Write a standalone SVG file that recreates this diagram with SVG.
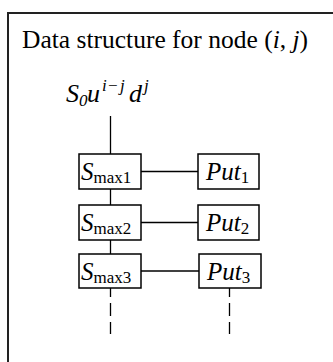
<svg xmlns="http://www.w3.org/2000/svg" width="333" height="362" viewBox="0 0 333 362">
<style>
.frame{fill:none;stroke:#222;stroke-width:2}
.box{fill:#fff;stroke:#000;stroke-width:1.5}
.ln{fill:none;stroke:#000;stroke-width:1.3}
.dash{fill:none;stroke:#000;stroke-width:1.3;stroke-dasharray:13 6;stroke-dashoffset:4}
.t{font-family:"Liberation Serif","Times New Roman",serif;fill:#000}
.it{font-style:italic}
.m{font-family:"Liberation Serif","Times New Roman",serif;font-style:italic;fill:#000;font-size:26px}
.ms{font-family:"Liberation Serif","Times New Roman",serif;font-style:italic;fill:#000;font-size:17px}
</style>
<rect width="333" height="362" fill="#fff"/>
<path class="frame" d="M8,362 V13 H333"/>
<text class="t" x="22" y="48" font-size="25.5">Data structure for node (<tspan class="it">i</tspan>, <tspan class="it">j</tspan>)</text>
<g id="root">
<text class="m" x="66" y="102">S</text>
<text class="ms" x="79" y="106" font-style="normal">0</text>
<text class="m" x="87" y="102">u</text>
<text class="ms" x="102" y="91">i</text>
<text class="ms" x="107" y="91" font-style="normal">−</text>
<text class="ms" x="120" y="91">j</text>
<text class="m" x="129" y="102">d</text>
<text class="ms" x="144" y="91">j</text>
</g>
<g id="connectors">
<line class="ln" x1="110.5" y1="116" x2="110.5" y2="154"/>
<line class="ln" x1="110.5" y1="189" x2="110.5" y2="205"/>
<line class="ln" x1="110.5" y1="240" x2="110.5" y2="254"/>
<line class="ln" x1="141" y1="171.5" x2="198" y2="171.5"/>
<line class="ln" x1="141" y1="222.5" x2="198" y2="222.5"/>
<line class="ln" x1="141" y1="271" x2="199" y2="271"/>
<line class="dash" x1="110.5" y1="288" x2="110.5" y2="334"/>
<line class="dash" x1="229.5" y1="288" x2="229.5" y2="334"/>
</g>
<g id="smax1"><rect class="box" x="79" y="154" width="62" height="35"/><text class="t" x="81" y="180" font-size="25"><tspan class="it">S</tspan><tspan font-size="17" dy="3">max1</tspan></text></g>
<g id="put1"><rect class="box" x="198" y="154" width="61" height="35"/><text class="t" x="206" y="180" font-size="25"><tspan class="it">Put</tspan><tspan font-size="17" dy="3">1</tspan></text></g>
<g id="smax2"><rect class="box" x="79" y="205" width="62" height="35"/><text class="t" x="81" y="231" font-size="25"><tspan class="it">S</tspan><tspan font-size="17" dy="3">max2</tspan></text></g>
<g id="put2"><rect class="box" x="198" y="205" width="61" height="35"/><text class="t" x="206" y="231" font-size="25"><tspan class="it">Put</tspan><tspan font-size="17" dy="3">2</tspan></text></g>
<g id="smax3"><rect class="box" x="79" y="254" width="62" height="34"/><text class="t" x="81" y="280" font-size="25"><tspan class="it">S</tspan><tspan font-size="17" dy="3">max3</tspan></text></g>
<g id="put3"><rect class="box" x="199" y="254" width="62" height="34"/><text class="t" x="207" y="280" font-size="25"><tspan class="it">Put</tspan><tspan font-size="17" dy="3">3</tspan></text></g>
</svg>
